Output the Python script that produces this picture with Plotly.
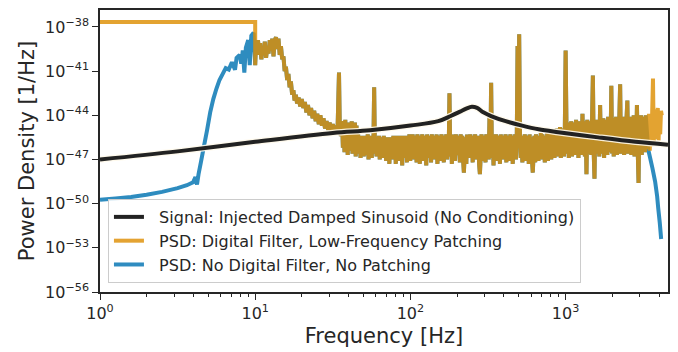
import numpy as np
import plotly.graph_objects as go

# ---------------- data (log10 frequency [Hz], log10 power density [1/Hz]) ----------------
# Signal: injected damped sinusoid
sig_logf = [0.0, 0.5, 1.0, 1.5, 1.74, 2.0, 2.18, 2.26, 2.32, 2.36, 2.396, 2.43, 2.47,
            2.52, 2.614, 2.72, 2.826, 2.954, 3.21, 3.45, 3.66]
sig_logp = [-47.0, -46.45, -45.8, -45.2, -45.02, -44.7, -44.4, -44.05, -43.75, -43.55,
            -43.42, -43.5, -43.8, -44.05, -44.4, -44.7, -44.95, -45.15, -45.5, -45.8, -46.0]

# PSD with digital filter: low-frequency patch (flat) up to 10 Hz
patch_logf = [0.0, 1.0]
patch_logp = [-37.66, -37.66]

# Shared PSD segment 10 Hz - 36 Hz
low_logf = [1.000, 1.005, 1.012, 1.018, 1.025, 1.032, 1.040, 1.047, 1.055, 1.062,
            1.070, 1.078, 1.086, 1.094, 1.102, 1.110, 1.118, 1.126, 1.134, 1.142,
            1.150, 1.158, 1.166, 1.174, 1.182, 1.190, 1.198, 1.206, 1.214, 1.222,
            1.230, 1.238, 1.246, 1.254, 1.262, 1.270, 1.280, 1.290, 1.300, 1.310,
            1.320, 1.330, 1.340, 1.350, 1.360, 1.370, 1.380, 1.390, 1.400, 1.410,
            1.420, 1.430, 1.440, 1.450, 1.460, 1.470, 1.480, 1.490, 1.500, 1.510,
            1.520, 1.530, 1.540, 1.545, 1.552]
low_logp = [-40.6, -39.2, -39.9, -38.9, -39.7, -39.1, -40.2, -39.3, -39.9, -39.0,
            -40.1, -39.4, -39.8, -38.9, -39.6, -38.8, -40.0, -38.9, -38.7, -39.5,
            -38.8, -39.9, -39.3, -40.2, -40.0, -41.0, -40.7, -41.6, -41.2, -42.1,
            -41.7, -42.6, -42.3, -43.0, -42.6, -43.2, -42.8, -43.4, -42.9, -43.5,
            -43.1, -43.8, -43.3, -44.0, -43.5, -44.2, -43.7, -44.4, -43.9, -44.6,
            -44.0, -44.7, -44.2, -44.9, -44.4, -45.0, -44.5, -45.1, -44.6, -45.2,
            -44.7, -45.3, -41.1, -44.8, -45.4]

# Shared PSD segment 36 Hz - 4.2 kHz (evenly sampled in log frequency)
noise_logf_start, noise_logf_end = 1.56, 3.62
noise_logp = [
    -44.4, -46.2, -44.6, -46.5, -44.3, -46.0, -44.7, -46.7, -44.5, -46.1,
    -44.6, -46.4, -44.4, -46.6, -44.8, -46.2, -44.5, -46.8, -44.7, -46.3,
    -45.3, -46.6, -45.5, -46.9, -45.4, -46.3, -45.6, -46.8, -45.4, -46.4,
    -45.5, -46.7, -45.3, -47.0, -45.6, -46.5, -45.4, -46.9, -45.5, -46.3,
    -42.1, -46.6, -45.5, -46.8, -45.6, -46.4, -45.4, -47.0, -45.6, -46.3,
    -45.5, -46.9, -45.4, -46.5, -45.6, -47.1, -45.5, -46.6, -45.6, -47.3,
    -45.5, -46.8, -45.5, -47.0, -45.4, -46.6, -45.6, -47.3, -45.4, -46.8,
    -45.5, -47.1, -45.4, -46.6, -45.6, -47.4, -45.4, -46.9, -45.5, -46.5,
    -45.4, -47.2, -45.4, -46.7, -45.3, -47.1, -45.5, -46.6, -45.3, -47.0,
    -45.4, -46.7, -45.6, -47.2, -45.3, -46.5, -45.5, -47.3, -45.4, -46.8,
    -45.3, -47.1, -45.5, -46.6, -45.4, -47.4, -45.3, -46.9, -45.5, -46.5,
    -45.4, -47.2, -45.3, -46.7, -45.5, -47.0, -45.4, -46.6, -45.3, -47.3,
    -45.5, -46.8, -45.4, -47.1, -45.3, -46.5, -45.5, -47.2, -45.4, -46.7,
    -45.3, -47.0, -45.5, -46.6, -42.5, -46.8, -45.4, -47.3, -45.3, -46.6,
    -45.5, -47.1, -45.3, -46.7, -45.4, -46.5, -45.5, -47.2, -45.3, -46.8,
    -45.4, -47.0, -47.9, -46.6, -45.5, -47.3, -45.3, -46.7, -45.4, -46.9,
    -45.3, -46.5, -45.5, -47.2, -45.4, -46.8, -45.3, -47.0, -45.5, -46.6,
    -45.4, -47.3, -48.0, -46.7, -45.3, -47.1, -45.5, -46.6, -45.4, -47.2,
    -45.3, -46.8, -45.5, -47.0, -44.0, -46.6, -41.8, -46.9, -45.3, -47.4,
    -45.4, -46.7, -45.3, -47.1, -45.5, -46.6, -45.4, -47.3, -45.3, -46.8,
    -45.5, -47.0, -45.4, -46.6, -45.3, -47.2, -45.5, -46.8, -45.4, -47.1,
    -45.3, -46.6, -45.5, -47.3, -45.4, -46.7, -45.3, -47.0, -45.5, -39.3,
    -45.4, -38.5, -45.3, -46.9, -45.5, -47.2, -45.4, -46.6, -45.3, -47.1,
    -45.5, -46.7, -45.4, -47.3, -45.3, -46.8, -45.5, -47.0, -47.9, -46.6,
    -45.4, -47.2, -45.3, -46.7, -45.5, -47.1, -45.4, -46.5, -45.2, -47.0,
    -45.3, -46.8, -45.5, -47.2, -45.4, -46.6, -45.2, -47.1, -45.3, -46.7,
    -45.1, -47.0, -45.3, -46.6, -45.0, -46.9, -45.2, -46.5, -44.9, -46.8,
    -45.1, -46.6, -44.8, -46.9, -45.0, -46.5, -44.9, -46.8, -44.8, -39.6,
    -44.7, -46.6, -44.5, -46.9, -44.6, -46.4, -44.4, -46.8, -44.7, -46.3,
    -44.5, -46.7, -44.3, -46.5, -44.6, -46.9, -44.4, -46.4, -44.5, -46.7,
    -43.9, -46.5, -44.4, -46.8, -44.6, -48.0, -44.3, -46.6, -44.5, -46.4,
    -44.4, -46.7, -44.2, -41.3, -46.5, -48.3, -44.4, -46.6, -44.3, -46.4,
    -44.5, -46.8, -43.3, -46.3, -44.4, -46.6, -44.2, -46.9, -44.5, -46.4,
    -44.3, -46.7, -44.1, -46.5, -44.4, -46.3, -42.0, -46.6, -44.2, -46.8,
    -44.4, -46.4, -44.1, -46.7, -44.3, -46.5, -44.2, -41.9, -46.6, -44.4,
    -46.3, -44.1, -46.7, -44.3, -46.2, -44.2, -43.0, -46.6, -44.4, -46.3,
    -44.1, -46.7, -44.3, -46.4, -44.0, -46.8, -44.2, -46.3, -43.3, -46.5,
    -48.6, -44.2, -46.4, -44.0, -46.7, -44.3, -46.2, -44.1, -46.5, -44.0,
    -46.3, -44.2, -46.0, -43.9, -46.4, -44.1, -46.1, -43.8, -41.5, -45.9,
    -43.6, -45.6, -43.8, -45.4, -43.5, -45.7, -43.9, -45.3, -43.7, -44.0,
]
blue_noise_count = 380  # blue follows the shared segment up to ~3.3 kHz

# PSD without digital filter: below 10 Hz
blue_lo_logf = [0.0, 0.10, 0.20, 0.30, 0.40, 0.50, 0.56, 0.60, 0.615, 0.625, 0.635,
                0.65, 0.67, 0.69, 0.71, 0.73, 0.75, 0.77, 0.79, 0.81, 0.83, 0.85,
                0.87, 0.88, 0.90, 0.91, 0.92, 0.93, 0.94, 0.955, 0.965, 0.975, 0.99]
blue_lo_logp = [-49.73, -49.65, -49.55, -49.4, -49.2, -48.95, -48.75, -48.55, -48.2, -48.7,
                -48.0, -47.2, -46.1, -45.0, -43.8, -42.9, -42.2, -41.6, -41.2, -40.8,
                -40.9, -40.4, -40.9, -40.1, -39.9, -40.5, -39.6, -41.1, -39.4, -38.9,
                -40.6, -38.6, -38.4]
# PSD without digital filter: high-frequency roll-off
blue_hi_logf = [3.532, 3.545, 3.56, 3.577, 3.59, 3.597, 3.607, 3.616]
blue_hi_logp = [-46.3, -46.9, -47.6, -48.5, -49.5, -50.3, -51.3, -52.4]

# ---------------- assemble series ----------------
noise_logf = list(np.linspace(noise_logf_start, noise_logf_end, len(noise_logp)))

orange_logf = patch_logf + low_logf + noise_logf
orange_logp = patch_logp + low_logp + noise_logp
blue_logf = blue_lo_logf + low_logf + noise_logf[:blue_noise_count] + blue_hi_logf
blue_logp = blue_lo_logp + low_logp + noise_logp[:blue_noise_count] + blue_hi_logp

def pw(v):
    return np.power(10.0, np.array(v, dtype=float))

FONT = "DejaVu Sans"
INK = "#262626"
PAD = "\u00a0\u00a0"

fig = go.Figure()
fig.add_trace(go.Scatter(x=pw(blue_logf), y=pw(blue_logp), mode="lines",
                         name=PAD + "PSD: No Digital Filter, No Patching",
                         line=dict(color="#0173b2", width=4, simplify=False),
                         opacity=0.82, legendrank=3))
fig.add_trace(go.Scatter(x=pw(orange_logf), y=pw(orange_logp), mode="lines",
                         name=PAD + "PSD: Digital Filter, Low-Frequency Patching",
                         line=dict(color="#de8f05", width=4, simplify=False),
                         opacity=0.82, legendrank=2))
fig.add_trace(go.Scatter(x=pw(sig_logf), y=pw(sig_logp), mode="lines",
                         showlegend=False, hoverinfo="skip",
                         line=dict(color="rgba(255,250,235,0.9)", width=6.5, shape="spline")))
fig.add_trace(go.Scatter(x=pw(sig_logf), y=pw(sig_logp), mode="lines",
                         name=PAD + "Signal: Injected Damped Sinusoid (No Conditioning)",
                         line=dict(color="#222222", width=4, shape="spline"),
                         legendrank=1))

x_major = [1, 10, 100, 1000]
x_major_text = ["10<sup>0</sup>", "10<sup>1</sup>", "10<sup>2</sup>", "10<sup>3</sup>"]
x_minor = [m * d for d in (1, 10, 100, 1000) for m in range(2, 10) if m * d <= 4500]
y_exp = list(range(-56, -37, 3))
y_major = [10.0 ** e for e in y_exp]
y_major_text = ["10<sup>\u2212%d</sup>" % (-e) for e in y_exp]

axis_common = dict(type="log", showline=True, linecolor=INK, linewidth=1.5, mirror=True,
                   ticks="outside", ticklen=6, tickwidth=1.3, tickcolor=INK,
                   showgrid=False, zeroline=False,
                   tickfont=dict(family=FONT, size=16, color=INK))

fig.update_layout(
    width=678, height=352,
    margin=dict(l=100, r=8, t=10, b=58),
    paper_bgcolor="white", plot_bgcolor="white",
    font=dict(family=FONT, color=INK),
    xaxis=dict(range=[0, 3.66], tickmode="array", tickvals=x_major, ticktext=x_major_text,
               minor=dict(tickmode="array", tickvals=x_minor, ticks="outside", ticklen=3.5,
                          tickwidth=1, tickcolor=INK, showgrid=False),
               title=dict(text="Frequency [Hz]", font=dict(family=FONT, size=21, color=INK),
                          standoff=6),
               **axis_common),
    yaxis=dict(range=[-56, -36.85], tickmode="array", tickvals=y_major, ticktext=y_major_text,
               title=dict(text="Power Density [1/Hz]", font=dict(family=FONT, size=21, color=INK),
                          standoff=5),
               **axis_common),
    legend=dict(x=0.014, y=0.032, xanchor="left", yanchor="bottom",
                font=dict(family=FONT, size=16, color=INK),
                bgcolor="rgba(255,255,255,0.85)", bordercolor="#cccccc", borderwidth=1,
                tracegroupgap=0),
    showlegend=True,
)

fig.write_html("out.html")
